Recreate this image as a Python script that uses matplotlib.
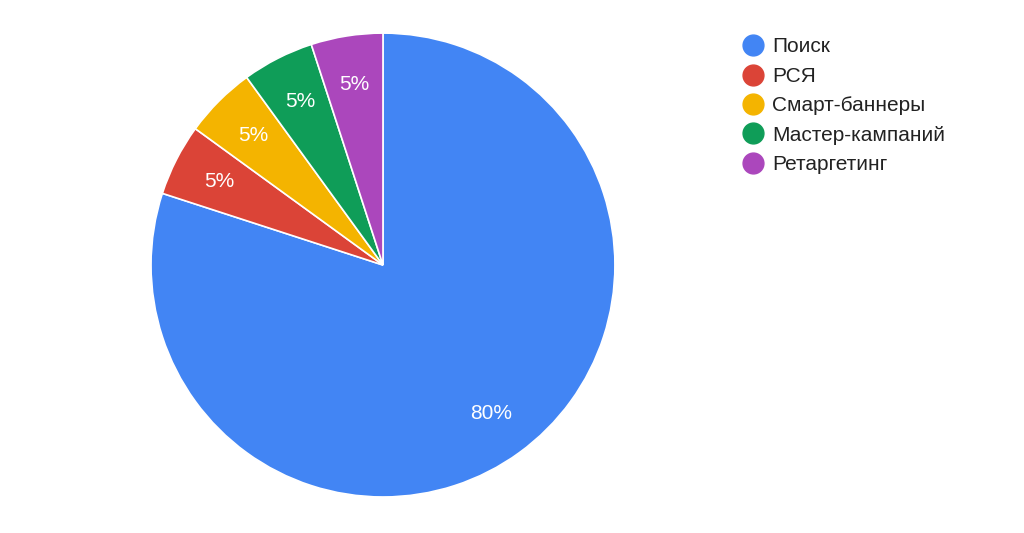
import matplotlib.pyplot as plt
from matplotlib.lines import Line2D

labels = ['Поиск', 'РСЯ', 'Смарт-баннеры', 'Мастер-кампаний', 'Ретаргетинг']
values = [80, 5, 5, 5, 5]
colors = ['#4285F4', '#DB4437', '#F4B400', '#0F9D58', '#AB47BC']

fig = plt.figure(figsize=(10.24, 5.33), dpi=100)
ax = fig.add_axes([0.1475, 0.0675, 0.453, 0.8705])
wedges, texts, autotexts = ax.pie(
    values, colors=colors, startangle=90, counterclock=False,
    autopct='%d%%', pctdistance=0.79,
    wedgeprops=dict(edgecolor='white', linewidth=1.2),
    textprops=dict(color='white', fontsize=15, family='Liberation Sans'))
ax.set_aspect('equal')
ax.set_xlim(-1, 1)
ax.set_ylim(-1, 1)

handles = [Line2D([], [], marker='o', linestyle='', markersize=15,
                  markerfacecolor=c, markeredgecolor=c) for c in colors]
leg = fig.legend(handles, labels, loc='upper left', bbox_to_anchor=(0.705, 0.965),
                 frameon=False, handletextpad=0.3, labelspacing=0.5,
                 handlelength=1.2, prop=dict(family='Liberation Sans', size=15))
for t in leg.get_texts():
    t.set_color('#222222')

fig.savefig('out.png', dpi=100)
